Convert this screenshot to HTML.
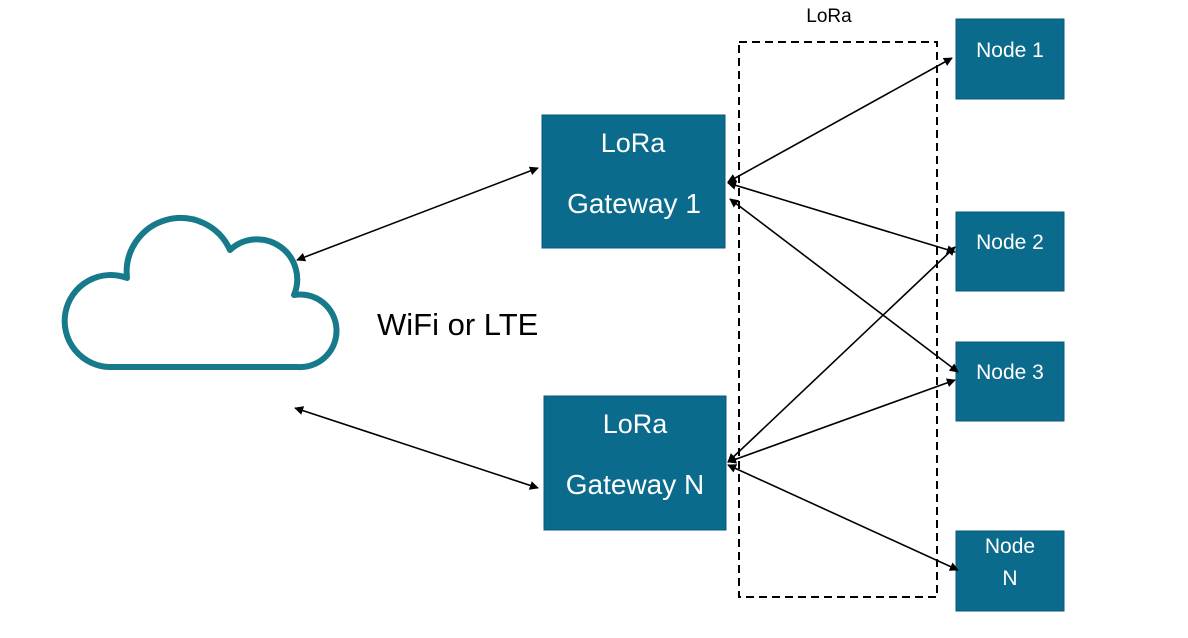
<!DOCTYPE html>
<html><head><meta charset="utf-8"><style>
html,body{margin:0;padding:0;background:#fff;}
svg{display:block;font-family:"Liberation Sans",sans-serif;}
</style></head><body>
<svg width="1188" height="638" viewBox="0 0 1188 638" xmlns="http://www.w3.org/2000/svg">
<defs>
<marker id="a" viewBox="0 0 10 10" refX="9" refY="5" markerWidth="9" markerHeight="9" orient="auto-start-reverse" markerUnits="userSpaceOnUse">
<path d="M0,0 L10,5 L0,10 z" fill="#000"/></marker>
</defs>
<rect x="739" y="42" width="198" height="555" fill="none" stroke="#000" stroke-width="2" stroke-dasharray="8,5"/>
<text x="829" y="22" font-size="19" text-anchor="middle">LoRa</text>
<path d="M110 367 A46 46 0 1 1 127 278 A54 54 0 0 1 230 250 A40 40 0 0 1 294 295 A36.3 36.3 0 1 1 298 367 Z" fill="none" stroke="#167a8b" stroke-width="6" stroke-linejoin="round"/>
<text x="377" y="335" font-size="31">WiFi or LTE</text>
<g fill="#0b6b8c" stroke="#0a5a78" stroke-width="1">
<rect x="542" y="115" width="183" height="133"/>
<rect x="544" y="396" width="182" height="134"/>
<rect x="956" y="19" width="108" height="80"/>
<rect x="956" y="212" width="108" height="79"/>
<rect x="956" y="342" width="108" height="79"/>
<rect x="956" y="531" width="108" height="80"/>
</g>
<g fill="#fff" text-anchor="middle">
<text x="633" y="152" font-size="27">LoRa</text>
<text x="634" y="213" font-size="28">Gateway 1</text>
<text x="635" y="433" font-size="27">LoRa</text>
<text x="635" y="494" font-size="28">Gateway N</text>
<text x="1010" y="57" font-size="21">Node 1</text>
<text x="1010" y="249" font-size="21">Node 2</text>
<text x="1010" y="379" font-size="21">Node 3</text>
<text x="1010" y="553" font-size="21">Node</text>
<text x="1010" y="585" font-size="21">N</text>
</g>
<g stroke="#000" stroke-width="1.6" marker-start="url(#a)" marker-end="url(#a)">
<line x1="297" y1="260" x2="538" y2="168"/>
<line x1="295" y1="408" x2="538" y2="488"/>
<line x1="728" y1="182" x2="952" y2="58"/>
<line x1="728" y1="183" x2="955" y2="252"/>
<line x1="730" y1="199" x2="958" y2="372"/>
<line x1="728" y1="462" x2="955" y2="247"/>
<line x1="728" y1="462" x2="955" y2="380"/>
<line x1="728" y1="465" x2="958" y2="570"/>
</g>
</svg>
</body></html>
